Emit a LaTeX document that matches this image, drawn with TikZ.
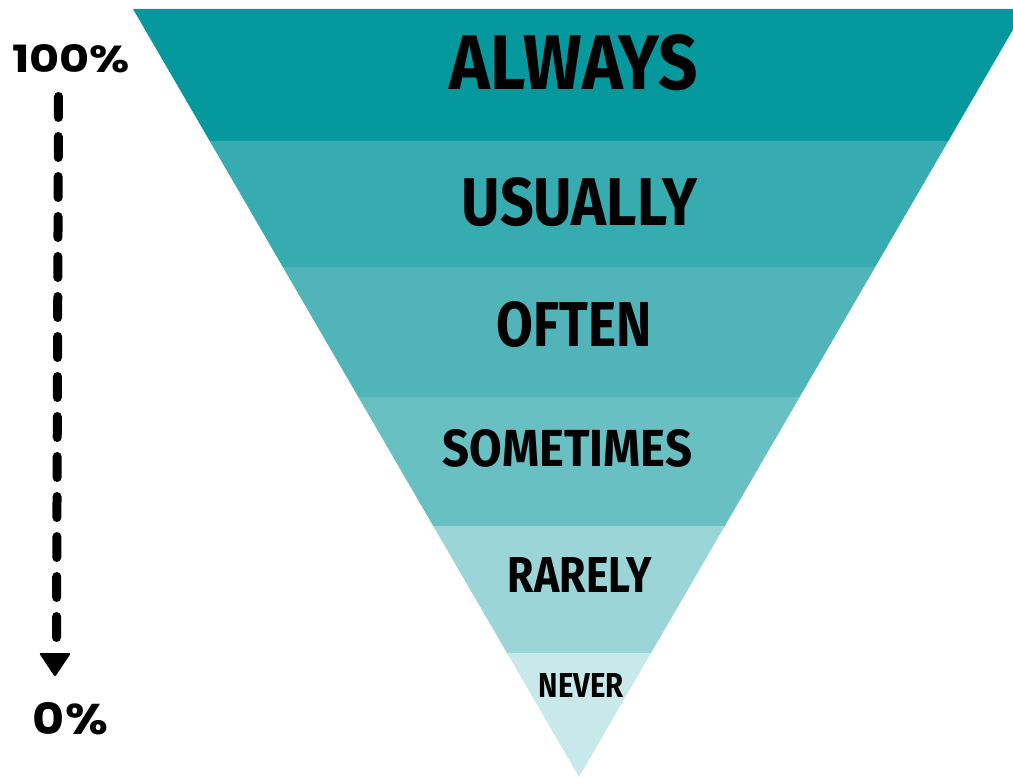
\documentclass[tikz,border=0pt]{standalone}
\usepackage{fontspec}
\setmainfont{Fira Sans}
\newfontfamily\popfont{Poppins}
\usepackage{graphicx}
\definecolor{bandA}{HTML}{05999D}
\definecolor{bandB}{HTML}{36ACB0}
\definecolor{bandC}{HTML}{50B4B9}
\definecolor{bandD}{HTML}{68C0C3}
\definecolor{bandE}{HTML}{9BD5D7}
\definecolor{bandF}{HTML}{C9E8EA}
\newcommand{\fitlbl}[3]{\resizebox{#1pt}{#2pt}{\bfseries #3}}
\newcommand{\funnellabel}[6]{%
  \node[lab] (#1) at (#2,#3) {\fitlbl{#4}{#5}{#6}};}
\begin{document}
\begin{tikzpicture}[x=1pt,y=-1pt,
  lab/.style={inner sep=0pt,outer sep=0pt,anchor=center,text=black},
  dasharrow/.style={line width=9pt,line cap=round,dash pattern=on 21pt off 19pt}]
\useasboundingbox (0,0) rectangle (1013,778);
\begin{scope}
\clip (0,0) rectangle (1013,778);
\fill[bandA] (133,9) -- (1025,9) -- (948.3,141) -- (209.7,141) -- cycle;
\fill[bandB] (209.7,141) -- (948.3,141) -- (875.2,267) -- (282.8,267) -- cycle;
\fill[bandC] (282.8,267) -- (875.2,267) -- (799.7,397) -- (358.3,397) -- cycle;
\fill[bandD] (358.3,397) -- (799.7,397) -- (724.8,526) -- (433.2,526) -- cycle;
\fill[bandE] (433.2,526) -- (724.8,526) -- (651.0,653) -- (507.0,653) -- cycle;
\fill[bandF] (507.0,653) -- (651.0,653) -- (579,777) -- cycle;
\end{scope}
\funnellabel{always}{574}{62.5}{248}{55}{ALWAYS}
\funnellabel{usually}{579.5}{202.5}{235}{48}{USUALLY}
\funnellabel{often}{574.5}{324.5}{155}{45}{OFTEN}
\funnellabel{sometimes}{567.5}{448.5}{249}{37}{SOMETIMES}
\funnellabel{rarely}{580}{574.5}{144}{35}{RARELY}
\funnellabel{never}{581.5}{685}{85}{24}{NEVER}
\node[lab] (p100) at (71,59) {\resizebox{118pt}{28pt}{\popfont\bfseries 100\%}};
\node[lab] (p0) at (70.5,719) {\resizebox{75pt}{32pt}{\popfont\bfseries 0\%}};
\coordinate (astart) at (58.5,96.5);
\coordinate (aend) at (56.5,637.5);
\coordinate (atip) at (55,677);
\draw[dasharrow] (astart) -- (aend);
\fill[rounded corners=2pt] (39,653) -- (71,653) -- (atip) -- cycle;
\end{tikzpicture}
\end{document}
